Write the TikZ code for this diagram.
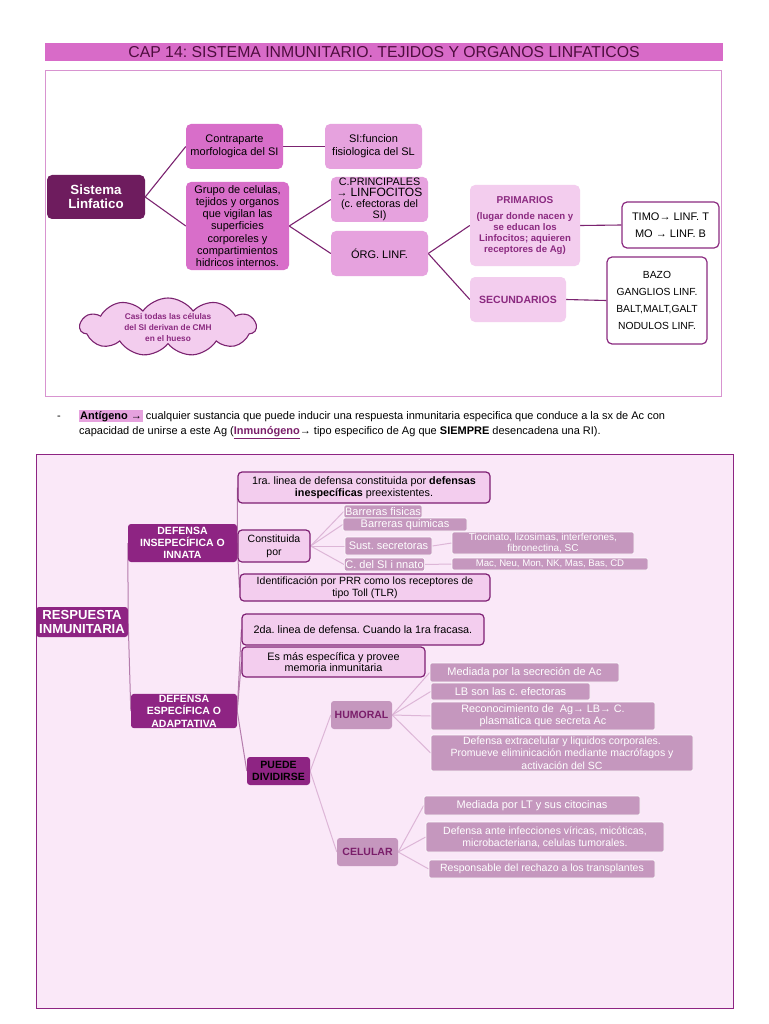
\documentclass[tikz,border=0pt]{standalone}
\usepackage{fontspec}
\setmainfont{Liberation Sans}
\usetikzlibrary{shapes.symbols}
\definecolor{hdr}{HTML}{D86BC8}
\definecolor{hdrtxt}{HTML}{4E0D3E}
\definecolor{darkp}{HTML}{6E1C5E}
\definecolor{orch}{HTML}{D86EC9}
\definecolor{lorch}{HTML}{E6A2DE}
\definecolor{pinkf}{HTML}{F3CDEE}
\definecolor{purp}{HTML}{8B2A80}
\definecolor{topline}{HTML}{7B2370}
\definecolor{frametop}{HTML}{D894D0}
\definecolor{bgpink}{HTML}{FAE8F8}
\definecolor{mag}{HTML}{8E2483}
\definecolor{bord}{HTML}{7E1F73}
\definecolor{mauve}{HTML}{C597BE}
\definecolor{midline}{HTML}{B47CAC}
\definecolor{leafline}{HTML}{DDB6D7}
\definecolor{hlc}{HTML}{E6A2DE}
\definecolor{ulc}{HTML}{7A1E6A}
\newcommand\myfs[2]{\fontsize{#1}{#2}\selectfont}
\newcommand\myhl[1]{{\setlength\fboxsep{1pt}\colorbox{hlc}{#1}}}
\pgfdeclarelayer{framelayer}
\pgfdeclarelayer{linelayer}
\pgfsetlayers{framelayer,linelayer,main}
\tikzset{
  wh/.style 2 args={minimum width=#1pt, minimum height=#2pt},
  base/.style={rounded corners=5pt, align=center, inner sep=1pt},
  darkbox/.style={base, fill=darkp, text=white, font=\bfseries\myfs{13.3}{14}},
  orchbox/.style={base, fill=orch, text=black, font=\myfs{11}{13}},
  lorchbox/.style={base, fill=lorch, text=black, font=\myfs{11}{13}},
  pinkbox/.style={base, fill=pinkf, text=purp, font=\bfseries\myfs{9.6}{10.8}},
  whitebox/.style={base, fill=white, draw=purp, line width=1.2pt, text=black, font=\myfs{11}{17}},
  magbox/.style={base, rounded corners=3pt, fill=mag, text=white, font=\bfseries\myfs{10.5}{12}},
  pbox/.style={base, rounded corners=4pt, fill=pinkf, draw=bord, line width=1.2pt, text=black, font=\myfs{10.8}{12.5}},
  catbox/.style={base, rounded corners=3pt, fill=mauve, text=ulc, font=\bfseries\myfs{10.5}{12}},
  leaf/.style={base, rounded corners=2pt, fill=mauve, draw=white, line width=0.6pt, text=white, font=\myfs{11}{12}},
  tline/.style={draw=topline, line width=1.1pt},
  mline/.style={draw=midline, line width=1pt},
  lline/.style={draw=leafline, line width=1pt},
}
\begin{document}
\frenchspacing
\begin{tikzpicture}[x=1pt,y=-1pt]
\useasboundingbox (0,0) rectangle (768,1024);
\begin{pgfonlayer}{framelayer}
\fill[white] (0,0) rectangle (768,1024);
\draw[frametop, line width=1pt] (45,71) rectangle (721,396);
\draw[mag, line width=1pt, fill=bgpink] (36,454) rectangle (733,1008);
\end{pgfonlayer}
% header
\node[fill=hdr, minimum width=678pt, minimum height=18pt, inner sep=0pt, text=hdrtxt, font=\myfs{15.8}{16}] (hd) at (384,52) {CAP 14: SISTEMA INMUNITARIO. TEJIDOS Y ORGANOS LINFATICOS};
% top diagram
\node[darkbox, wh={98}{44}] (sl) at (96,197) {Sistema\\Linfatico};
\node[orchbox, wh={97}{45}] (cm) at (234.5,146.5) {Contraparte\\morfologica del SI};
\node[lorchbox, wh={97}{45}] (sf) at (373.5,146.5) {SI:funcion\\fisiologica del SL};
\node[orchbox, wh={103}{88}, font=\myfs{11}{12.2}] (gr) at (237.5,226) {Grupo de celulas,\\tejidos y organos\\que vigilan las\\superficies\\corporeles y\\compartimientos\\hidricos internos.};
\node[lorchbox, wh={97}{45}, font=\myfs{10.8}{11}] (cp) at (379.5,199.5) {C.PRINCIPALES\\→ \myfs{12}{11}LINFOCITOS\\(c. efectoras del\\SI)};
\node[lorchbox, wh={97}{45}] (og) at (379.5,253.5) {ÓRG. LINF.};
\node[pinkbox, wh={110}{81}] (pr) at (525,225.5) {\myfs{10}{10.8}PRIMARIOS\\[5pt](lugar donde nacen y\\se educan los\\Linfocitos; aquieren\\receptores de Ag)};
\node[pinkbox, wh={96}{45}, font=\bfseries\myfs{10.5}{12}] (se) at (518,299.5) {SECUNDARIOS};
\node[whitebox, wh={97}{46}] (ti) at (670.5,225) {TIMO→ LINF. T\\MO → LINF. B};
\node[whitebox, wh={100}{87}, font=\myfs{10.3}{17}] (bz) at (657,300.5) {BAZO\\GANGLIOS LINF.\\BALT,MALT,GALT\\NODULOS LINF.};
\node[cloud, cloud puffs=11, cloud puff arc=110, aspect=3, draw=topline, fill=pinkf, line width=1.1pt, minimum width=176pt, minimum height=58pt, inner sep=0pt, align=center, text=purp, font=\bfseries\myfs{8.3}{11}] (cl) at (168,327) {Casi todas las células\\del SI derivan de CMH\\en el hueso};
\begin{pgfonlayer}{linelayer}
\draw[tline] (sl.east) -- (cm.west);
\draw[tline] (sl.east) -- (gr.west);
\draw[tline] (cm.east) -- (sf.west);
\draw[tline] (gr.east) -- (cp.west);
\draw[tline] (gr.east) -- (og.west);
\draw[tline] (og.east) -- (pr.west);
\draw[tline] (og.east) -- (se.west);
\draw[tline] (pr.east) -- (ti.west);
\draw[tline] (se.east) -- (bz.west);
\end{pgfonlayer}
% middle text
\node[anchor=base west, inner sep=0pt, font=\myfs{11}{13}] (dash) at (57,419) {-};
\node[anchor=base west, inner sep=0pt, font=\myfs{11}{13}] (t1) at (79,419) {\myhl{\textbf{Antígeno →}} cualquier sustancia que puede inducir una respuesta inmunitaria especifica que conduce a la sx de Ac con};
\node[anchor=base west, inner sep=0pt, font=\myfs{11}{13}] (t2) at (79,434) {capacidad de unirse a este Ag (\textcolor{ulc}{\underline{\textbf{Inmunógeno}}}→ tipo especifico de Ag que \textbf{SIEMPRE} desencadena una RI).};
% bottom diagram
\node[magbox, wh={92}{30}, font=\bfseries\myfs{13.1}{14}] (ri) at (82,622) {RESPUESTA\\INMUNITARIA};
\node[magbox, wh={109}{38}] (di) at (182.5,543) {DEFENSA\\INSEPECÍFICA O\\INNATA};
\node[magbox, wh={106}{34}, font=\bfseries\myfs{10.5}{12.5}] (de) at (184,711) {DEFENSA\\ESPECÍFICA O\\ADAPTATIVA};
\node[magbox, wh={63}{28}, text=black] (pd) at (278.5,771) {PUEDE\\DIVIDIRSE};
\node[pbox, wh={252}{31}] (l1) at (364,487.5) {1ra. linea de defensa constituida por \textbf{defensas}\\\textbf{inespecíficas} preexistentes.};
\node[pbox, wh={72}{32}, font=\myfs{10.5}{13}] (cu) at (274,546) {Constituida\\por};
\node[pbox, wh={250}{27}, font=\myfs{10.5}{12}] (id) at (365,587.5) {Identificación por PRR como los receptores de\\tipo Toll (TLR)};
\node[pbox, wh={242}{31}] (l2) at (363,629.5) {2da. linea de defensa. Cuando la 1ra fracasa.};
\node[pbox, wh={183}{30}, font=\myfs{10.8}{11.5}] (em) at (333.5,662) {Es más específica y provee\\memoria inmunitaria};
\node[catbox, wh={61}{28}] (hu) at (361.5,715) {HUMORAL};
\node[catbox, wh={61}{28}] (ce) at (367.5,852) {CELULAR};
\node[leaf, wh={78}{13}] (bf) at (383,511.5) {Barreras fisicas};
\node[leaf, wh={124}{13}] (bq) at (405,524.5) {Barreras quimicas};
\node[leaf, wh={87}{18}] (ss) at (388.5,546) {Sust. secretoras};
\node[leaf, wh={79}{13}] (cs) at (384.5,564.5) {C. del SI i nnato};
\node[leaf, wh={182}{22}, font=\myfs{10}{11}] (tc) at (543,543) {Tiocinato, lizosimas, interferones,\\fibronectina, SC};
\node[leaf, wh={196}{12}, font=\myfs{9.6}{11}] (mc) at (550,564) {Mac, Neu, Mon, NK, Mas, Bas, CD};
\node[leaf, wh={189}{19}] (h1) at (524.5,672.5) {Mediada por la secreción de Ac};
\node[leaf, wh={159}{17}] (h2) at (510.5,691.5) {LB son las c. efectoras};
\node[leaf, wh={224}{28}, font=\myfs{10.8}{12}] (h3) at (543,716) {Reconocimiento de\ \ Ag→ LB→ C.\\plasmatica que secreta Ac};
\node[leaf, wh={262}{36}, font=\myfs{10.5}{12.3}] (h4) at (562,753) {Defensa extracelular y liquidos corporales.\\Promueve eliminicación mediante macrófagos y\\activación del SC};
\node[leaf, wh={216}{19}] (c1) at (532,805.5) {Mediada por LT y sus citocinas};
\node[leaf, wh={238}{30}, font=\myfs{10.5}{12}] (c2) at (545,837) {Defensa ante infecciones víricas, micóticas,\\microbacteriana, celulas tumorales.};
\node[leaf, wh={226}{18}, font=\myfs{10.5}{12}] (c3) at (542,869) {Responsable del rechazo a los transplantes};
\begin{pgfonlayer}{linelayer}
\draw[mline] (ri.east) -- (di.west);
\draw[mline] (ri.east) -- (de.west);
\draw[mline] (di.east) -- (l1.west);
\draw[mline] (di.east) -- (cu.west);
\draw[mline] (di.east) -- (id.west);
\draw[mline] (de.east) -- (l2.west);
\draw[mline] (de.east) -- (em.west);
\draw[mline] (de.east) -- (pd.west);
\draw[lline] (pd.east) -- (hu.west);
\draw[lline] (pd.east) -- (ce.west);
\draw[lline] (cu.east) -- (bf.west);
\draw[lline] (cu.east) -- (bq.west);
\draw[lline] (cu.east) -- (ss.west);
\draw[lline] (cu.east) -- (cs.west);
\draw[lline] (ss.east) -- (tc.west);
\draw[lline] (cs.east) -- (mc.west);
\draw[lline] (hu.east) -- (h1.west);
\draw[lline] (hu.east) -- (h2.west);
\draw[lline] (hu.east) -- (h3.west);
\draw[lline] (hu.east) -- (h4.west);
\draw[lline] (ce.east) -- (c1.west);
\draw[lline] (ce.east) -- (c2.west);
\draw[lline] (ce.east) -- (c3.west);
\end{pgfonlayer}
\end{tikzpicture}
\end{document}
